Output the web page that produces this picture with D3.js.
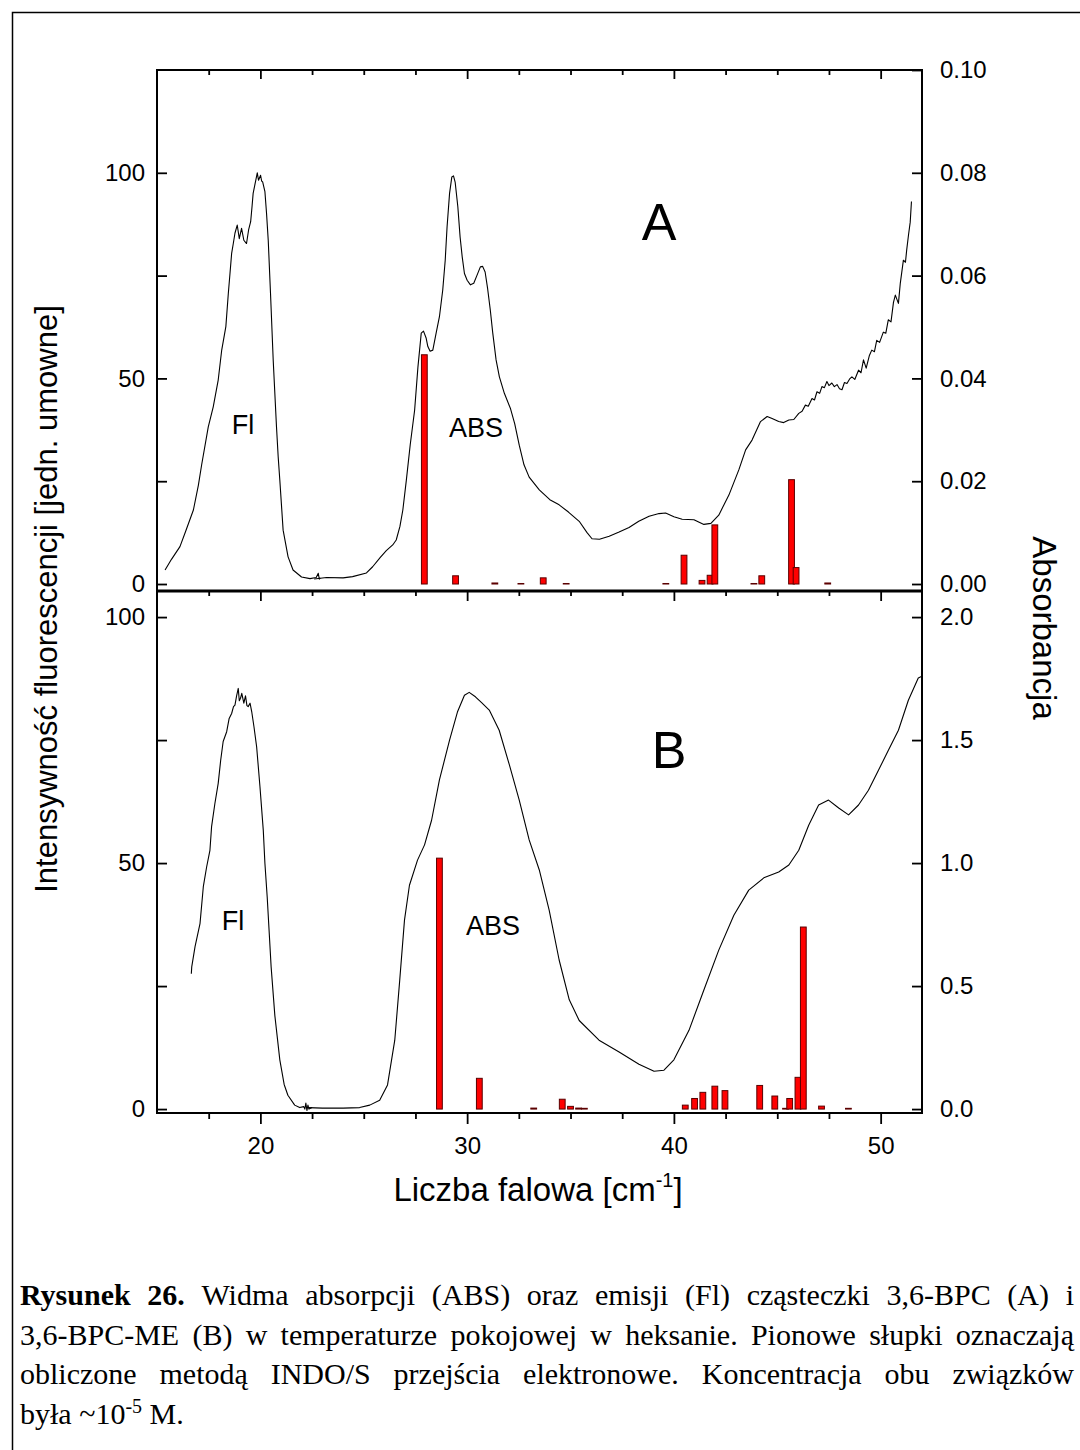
<!DOCTYPE html>
<html>
<head>
<meta charset="utf-8">
<script src="https://cdn.jsdelivr.net/npm/d3@7"></script>
<style>
  body { margin: 0; background: #fff; }
  svg { display: block; }
</style>
</head>
<body>
<svg id="chart" width="1080" height="1450"></svg>
<script>
// ---- data ----
// wavenumber axis, in 1000 cm-1
const xDomain = [15, 52]
const xMajorTicks = [20, 30, 40, 50]
const xMinorTicks = [17.5, 22.5, 25, 27.5, 32.5, 35, 37.5, 42.5, 45, 47.5]

// panel A: fluorescence (left axis, arb. units)
const flA = [
  [15.39, 3.4], [15.7, 6], [16.11, 9.1], [16.4, 13], [16.76, 18], [17.0, 24], [17.16, 29],
  [17.48, 38.2], [17.72, 43.1], [17.96, 49.6], [18.13, 56.9], [18.33, 62.6], [18.45, 70.7],
  [18.53, 75.5], [18.61, 80.4], [18.69, 82.8], [18.77, 85.3], [18.88, 87.3], [18.98, 84],
  [19.09, 86.5], [19.2, 83.6], [19.33, 82.8], [19.43, 86.1], [19.53, 88.1], [19.6, 92],
  [19.65, 95], [19.73, 97], [19.85, 100], [19.91, 98.2], [20.01, 99.4], [20.06, 98],
  [20.11, 97.8], [20.22, 95.4], [20.3, 90], [20.38, 83.6], [20.49, 70.7], [20.62, 54.5],
  [20.78, 38.2], [20.86, 31], [20.94, 25.3], [21.1, 13.1], [21.34, 6.6], [21.58, 3.4],
  [21.99, 1.7], [22.4, 1.3], [22.7, 1.6], [22.8, 2.6], [22.85, 1.2], [22.9, 1.5]
]
// panel A: absorption (right axis, absorbance)
const absA = [
  [22.6, 0.00096], [23.2, 0.00128], [24.0, 0.0012], [24.46, 0.00144], [25.13, 0.00216],
  [25.43, 0.00336], [25.8, 0.0052], [26.09, 0.00648], [26.4, 0.0076], [26.57, 0.00856],
  [26.75, 0.0112], [26.89, 0.0144], [27.06, 0.0202], [27.25, 0.0272], [27.46, 0.0338],
  [27.62, 0.0422], [27.78, 0.0488], [27.89, 0.0492], [28.02, 0.0478], [28.1, 0.0462],
  [28.21, 0.0453], [28.34, 0.0455], [28.5, 0.0488], [28.66, 0.052], [28.82, 0.0572],
  [28.94, 0.063], [29.03, 0.0695], [29.15, 0.076], [29.26, 0.0792], [29.34, 0.0794],
  [29.42, 0.0782], [29.55, 0.0734], [29.66, 0.0675], [29.76, 0.0637], [29.87, 0.0604],
  [30.0, 0.0591], [30.16, 0.0582], [30.32, 0.0585], [30.48, 0.0601], [30.64, 0.0617],
  [30.75, 0.0618], [30.87, 0.0607], [30.99, 0.0575], [31.12, 0.0533], [31.24, 0.0488],
  [31.4, 0.0436], [31.56, 0.0403], [31.8, 0.0371], [32.09, 0.0342], [32.3, 0.0312],
  [32.52, 0.027], [32.75, 0.0232], [33.0, 0.0208], [33.49, 0.0183], [34.0, 0.0164],
  [34.45, 0.0154], [34.9, 0.014], [35.42, 0.0122], [35.8, 0.01], [36.04, 0.0088],
  [36.4, 0.0087], [36.87, 0.0093], [37.35, 0.0101], [37.83, 0.011], [38.3, 0.0122],
  [38.8, 0.0132], [39.28, 0.0137], [39.6, 0.0138], [40.0, 0.0131], [40.4, 0.0126],
  [40.97, 0.0125], [41.45, 0.0116], [41.79, 0.0118], [42.17, 0.0134], [42.66, 0.0173],
  [43.14, 0.0222], [43.47, 0.0261], [43.78, 0.028], [44.19, 0.0316], [44.51, 0.0326],
  [44.75, 0.0322], [45.07, 0.0316], [45.31, 0.0314], [45.56, 0.0319], [45.8, 0.032],
  [46.04, 0.0332], [46.2, 0.0336], [46.36, 0.0348], [46.5, 0.0346], [46.68, 0.0361],
  [46.8, 0.0358], [46.92, 0.0374], [47.05, 0.0371], [47.16, 0.0384], [47.28, 0.0382],
  [47.4, 0.0394], [47.5, 0.0386], [47.64, 0.0391], [47.76, 0.0384], [47.89, 0.0388],
  [48.01, 0.0380], [48.13, 0.0378], [48.25, 0.0392], [48.37, 0.039], [48.5, 0.0399],
  [48.61, 0.0403], [48.75, 0.0398], [48.93, 0.0416], [49.05, 0.0411], [49.17, 0.0436],
  [49.3, 0.042], [49.45, 0.0444], [49.57, 0.0455], [49.7, 0.0452], [49.81, 0.0474],
  [49.95, 0.0470], [50.13, 0.049], [50.25, 0.0488], [50.37, 0.0514], [50.5, 0.051],
  [50.62, 0.0548], [50.71, 0.0562], [50.86, 0.0546], [50.95, 0.0585], [51.1, 0.063],
  [51.2, 0.0626], [51.26, 0.065], [51.35, 0.068], [51.43, 0.0704], [51.49, 0.0744]
]
// panel A: INDO/S transitions (right axis units)
const barsA = [
  [27.93, 0.0446], [29.44, 0.0016], [31.34, 0.0002], [32.6, 0.0001], [33.68, 0.0012],
  [34.79, 0.0001], [39.61, 0.0001], [40.49, 0.0056], [41.36, 0.0007], [41.75, 0.0017],
  [41.98, 0.0115], [43.87, 0.0001], [44.25, 0.0016], [45.69, 0.0203], [45.91, 0.0032],
  [47.44, 0.0002]
]

// panel B: fluorescence (left axis)
const flB = [
  [16.66, 27.5], [16.68, 28.9], [16.84, 33], [17.08, 37.7], [17.24, 45.2], [17.4, 49.2],
  [17.56, 52.6], [17.64, 57.4], [17.8, 62.1], [17.96, 66.2], [18.08, 70.9], [18.2, 74.7],
  [18.37, 76.7], [18.49, 79.4], [18.61, 80.4], [18.7, 81.8], [18.77, 82.1], [18.85, 84],
  [18.93, 85.5], [18.98, 83], [19.04, 83.5], [19.1, 84.5], [19.2, 82.5], [19.28, 84],
  [19.35, 82], [19.41, 81.8], [19.5, 82.5], [19.58, 80.8], [19.69, 77.7], [19.82, 73.6],
  [19.98, 65.5], [20.14, 56.7], [20.22, 49.9], [20.33, 43.1], [20.42, 36.4], [20.52, 28.9],
  [20.7, 19], [20.94, 10], [21.15, 5], [21.33, 2.8], [21.66, 0.8], [21.9, 0.3], [22.1, 0.5],
  [22.15, 0.0], [22.2, 1.2], [22.25, -0.3], [22.3, 0.8], [22.35, 0], [22.5, 0.3]
]
// panel B: absorption (right axis)
const absB = [
  [22.3, 0.006], [23.0, 0.004], [24.0, 0.004], [24.8, 0.006], [25.29, 0.016], [25.77, 0.036],
  [26.15, 0.098], [26.5, 0.28], [26.74, 0.524], [26.97, 0.768], [27.21, 0.91], [27.6, 1.012],
  [27.94, 1.074], [28.28, 1.174], [28.66, 1.338], [29.15, 1.5], [29.53, 1.614], [29.87, 1.682],
  [30.1, 1.694], [30.4, 1.676], [30.7, 1.652], [31.07, 1.622], [31.55, 1.54], [32.04, 1.4],
  [32.52, 1.256], [33.0, 1.094], [33.49, 0.972], [33.97, 0.808], [34.45, 0.606], [34.94, 0.444],
  [35.42, 0.36], [36.38, 0.28], [37.35, 0.232], [38.31, 0.182], [39.04, 0.154], [39.52, 0.158],
  [40.0, 0.2], [40.73, 0.32], [41.45, 0.484], [42.17, 0.646], [42.9, 0.788], [43.62, 0.89],
  [44.35, 0.94], [45.07, 0.964], [45.56, 0.992], [46.04, 1.052], [46.52, 1.154], [47.0, 1.236],
  [47.48, 1.256], [47.97, 1.224], [48.45, 1.196], [48.93, 1.236], [49.41, 1.296], [49.9, 1.378],
  [50.38, 1.46], [50.86, 1.54], [51.34, 1.662], [51.82, 1.752], [52.0, 1.76]
]
// panel B: INDO/S transitions (right axis units)
const barsB = [
  [28.66, 1.02], [30.59, 0.125], [33.22, 0.004], [34.6, 0.04], [35.0, 0.011], [35.39, 0.004],
  [35.67, 0.003], [40.55, 0.016], [41.0, 0.043], [41.4, 0.068], [41.98, 0.093], [42.47, 0.075],
  [44.15, 0.096], [44.88, 0.053], [45.4, 0.003], [45.6, 0.043], [46.0, 0.129], [46.26, 0.74],
  [47.14, 0.012], [48.44, 0.003]
]

const leftTicks = [0, 25, 50, 75, 100]
const leftLabels = [0, 50, 100]
const rightTicksA = [0, 0.02, 0.04, 0.06, 0.08, 0.10]
const rightTicksB = [0, 0.5, 1.0, 1.5, 2.0]

const captionLines = [
  'Rysunek 26. Widma absorpcji (ABS) oraz emisji (Fl) cząsteczki 3,6-BPC (A) i',
  '3,6-BPC-ME (B) w temperaturze pokojowej w heksanie. Pionowe słupki oznaczają',
  'obliczone metodą INDO/S przejścia elektronowe. Koncentracja obu związków'
]
const captionBoldWords = 2

// ---- layout ----
const sans = 'Arial, "Liberation Sans", sans-serif'
const serif = '"Times New Roman", "Liberation Serif", serif'
const plotLeft = 157, plotRight = 922
const barHalf = 0.14

const svg = d3.select('#chart')
svg.append('rect').attr('width', 1080).attr('height', 1450).attr('fill', '#fff')
// outer frame (runs past the page edge, as in the scan)
svg.append('rect')
    .attr('x', 12.5).attr('y', 12.5)
    .attr('width', 1120).attr('height', 1480)
    .attr('fill', 'none').attr('stroke', '#000').attr('stroke-width', 1.5)

const x = d3.scaleLinear().domain(xDomain).range([plotLeft, plotRight])

function styleAxis(sel, size) {
    sel.select('.domain').remove()
    sel.selectAll('line').attr('stroke', '#000').attr('stroke-width', 1.8)
    sel.selectAll('text')
        .attr('fill', '#000')
        .style('font-family', sans)
        .style('font-size', (size || 24) + 'px')
}

function drawPanel(p) {
    const yL = d3.scaleLinear().domain(p.leftDomain).range([p.bottom, p.top])
    const yR = d3.scaleLinear().domain(p.rightDomain).range([p.bottom, p.top])
    const g = svg.append('g')

    const clipId = 'clip-' + p.name
    svg.append('clipPath').attr('id', clipId)
        .append('rect')
        .attr('x', plotLeft).attr('y', p.top)
        .attr('width', plotRight - plotLeft).attr('height', p.bottom - p.top)

    const plot = g.append('g').attr('clip-path', `url(#${clipId})`)

    const lineL = d3.line().x(d => x(d[0])).y(d => yL(d[1]))
    const lineR = d3.line().x(d => x(d[0])).y(d => yR(d[1]))

    plot.append('path').datum(p.fl)
        .attr('d', lineL).attr('fill', 'none')
        .attr('stroke', '#000').attr('stroke-width', 1.1).attr('stroke-linejoin', 'round')
    plot.append('path').datum(p.abs)
        .attr('d', lineR).attr('fill', 'none')
        .attr('stroke', '#000').attr('stroke-width', 1.1).attr('stroke-linejoin', 'round')

    plot.selectAll('rect.bar')
        .data(p.bars)
        .join('rect')
        .attr('class', 'bar')
        .attr('x', d => x(d[0] - barHalf))
        .attr('width', d => x(d[0] + barHalf) - x(d[0] - barHalf))
        .attr('y', d => yR(d[1]))
        .attr('height', d => Math.max(0.5, yR(0) - yR(d[1])))
        .attr('fill', '#ff0000')
        .attr('stroke', '#5a0000')
        .attr('stroke-width', 1)

    // left axis, ticks pointing inward
    g.append('g')
        .attr('transform', `translate(${plotLeft},0)`)
        .call(d3.axisLeft(yL).tickValues(leftTicks)
            .tickFormat(d => leftLabels.includes(d) ? d : '')
            .tickSizeInner(-10).tickSizeOuter(0).tickPadding(12))
        .call(styleAxis)

    // right axis, ticks pointing inward
    g.append('g')
        .attr('transform', `translate(${plotRight},0)`)
        .call(d3.axisRight(yR).tickValues(p.rightTicks)
            .tickFormat(d3.format(p.rightFormat))
            .tickSizeInner(-10).tickSizeOuter(0).tickPadding(18))
        .call(styleAxis)

    // x ticks on panel edges (all hang downward)
    p.xEdges.forEach(e => {
        g.append('g')
            .attr('transform', `translate(0,${e.y})`)
            .call(d3.axisBottom(x).tickValues(xMinorTicks).tickFormat('')
                .tickSizeInner(e.minor).tickSizeOuter(0))
            .call(styleAxis)
        g.append('g')
            .attr('transform', `translate(0,${e.y})`)
            .call(d3.axisBottom(x).tickValues(xMajorTicks).tickFormat(e.labels ? d3.format('d') : '')
                .tickSizeInner(e.major).tickSizeOuter(0).tickPadding(13))
            .call(styleAxis)
    })

    // frame
    g.append('rect')
        .attr('x', plotLeft).attr('y', p.top)
        .attr('width', plotRight - plotLeft).attr('height', p.bottom - p.top)
        .attr('fill', 'none').attr('stroke', '#000').attr('stroke-width', 2)

    // annotations
    g.append('text')
        .attr('x', p.letterPos[0]).attr('y', p.letterPos[1])
        .attr('text-anchor', 'middle')
        .style('font-family', sans).style('font-size', '52px')
        .text(p.name)
    g.append('text')
        .attr('x', p.flPos[0]).attr('y', p.flPos[1])
        .attr('text-anchor', 'middle')
        .style('font-family', sans).style('font-size', '27px')
        .text('Fl')
    g.append('text')
        .attr('x', p.absPos[0]).attr('y', p.absPos[1])
        .attr('text-anchor', 'middle')
        .style('font-family', sans).style('font-size', '27px')
        .text('ABS')
}

drawPanel({
    name: 'A', top: 70, bottom: 591,
    leftDomain: [-1.7, 125], rightDomain: [-0.00136, 0.10],
    rightTicks: rightTicksA, rightFormat: '.2f',
    fl: flA, abs: absA, bars: barsA,
    xEdges: [{ y: 70, minor: 5, major: 9 }],
    letterPos: [659, 240], flPos: [243, 434], absPos: [476, 437]
})

drawPanel({
    name: 'B', top: 591, bottom: 1113,
    leftDomain: [-0.8, 105.3], rightDomain: [-0.016, 2.106],
    rightTicks: rightTicksB, rightFormat: '.1f',
    fl: flB, abs: absB, bars: barsB,
    xEdges: [
        { y: 591, minor: 5, major: 10 },
        { y: 1113, minor: 6, major: 11, labels: true }
    ],
    letterPos: [669, 768], flPos: [233, 930], absPos: [493, 935]
})

// thicker shared edge between the panels
svg.append('line')
    .attr('x1', plotLeft).attr('x2', plotRight)
    .attr('y1', 591).attr('y2', 591)
    .attr('stroke', '#000').attr('stroke-width', 3)

// axis titles
svg.append('text')
    .attr('transform', 'translate(46,599) rotate(-90)')
    .attr('text-anchor', 'middle').attr('dominant-baseline', 'central')
    .style('font-family', sans).style('font-size', '31px')
    .text('Intensywność fluorescencji [jedn. umowne]')

svg.append('text')
    .attr('transform', 'translate(1044,628) rotate(90)')
    .attr('text-anchor', 'middle').attr('dominant-baseline', 'central')
    .style('font-family', sans).style('font-size', '33px')
    .text('Absorbancja')

const xTitle = svg.append('text')
    .attr('x', 538).attr('y', 1201)
    .attr('text-anchor', 'middle')
    .style('font-family', sans).style('font-size', '33px')
xTitle.append('tspan').text('Liczba falowa [cm')
xTitle.append('tspan').attr('dy', -14).style('font-size', '20px').text('-1')
xTitle.append('tspan').attr('dy', 14).text(']')

// caption, justified between capLeft and capRight, condensed serif like the scan
const capLeft = 20, capRight = 1074, capY = 1305, capStep = 39.5, capMinGap = 8
const capGroup = svg.append('g').style('font-family', serif).style('font-size', '30px')

let capScale = 1
const capRows = captionLines.map((line, i) => {
    const words = line.split(' ')
    const nodes = words.map((w, j) => capGroup.append('text')
        .attr('y', capY + i * capStep)
        .attr('font-weight', i === 0 && j < captionBoldWords ? 'bold' : 'normal')
        .text(w))
    const widths = nodes.map(n => n.node().getComputedTextLength())
    const total = d3.sum(widths)
    const avail = capRight - capLeft - capMinGap * (words.length - 1)
    capScale = Math.min(capScale, avail / total)
    return { nodes, widths }
})
capRows.forEach(row => {
    const total = d3.sum(row.widths) * capScale
    const gap = (capRight - capLeft - total) / (row.nodes.length - 1)
    let cx = capLeft
    row.nodes.forEach((n, j) => {
        n.attr('transform', `translate(${cx},0) scale(${capScale},1)`)
        cx += row.widths[j] * capScale + gap
    })
})
const lastLine = capGroup.append('text')
    .attr('transform', `translate(${capLeft},0) scale(${capScale},1)`)
    .attr('y', capY + 3 * capStep)
lastLine.append('tspan').text('była ~10')
lastLine.append('tspan').attr('dy', -11).style('font-size', '20px').text('-5')
lastLine.append('tspan').attr('dy', 11).text(' M.')
</script>
</body>
</html>
